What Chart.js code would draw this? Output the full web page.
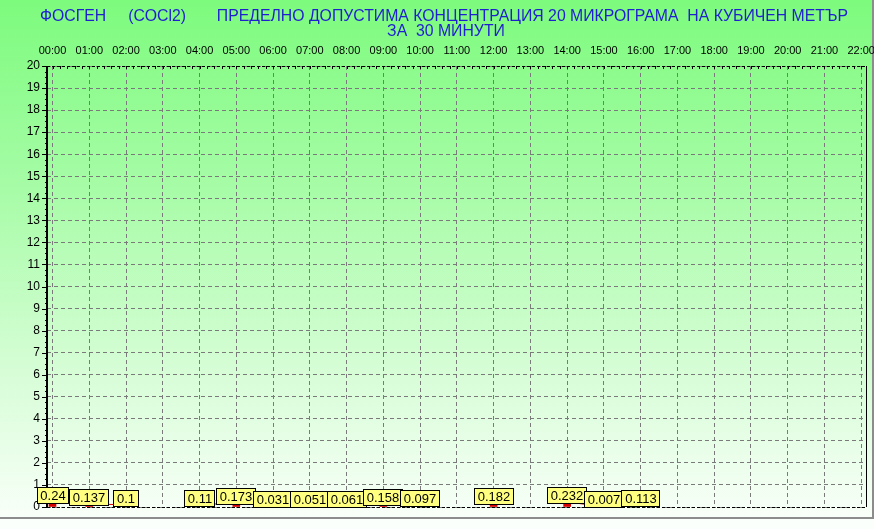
<!DOCTYPE html>
<html>
<head>
<meta charset="utf-8">
<script src="https://cdn.jsdelivr.net/npm/chart.js@4.4.1/dist/chart.umd.min.js"></script>
<style>
    html, body { margin: 0; padding: 0; background: #ffffff; }
    #wrap { width: 874px; height: 529px; position: relative; }
</style>
</head>
<body>
<div id="wrap"><canvas id="chart" width="874" height="529"></canvas></div>
<script>
"use strict";

const titleLine1 = "ФОСГЕН     (COCl2)       ПРЕДЕЛНО ДОПУСТИМА КОНЦЕНТРАЦИЯ 20 МИКРОГРАМА  НА КУБИЧЕН МЕТЪР";
const titleLine2 = "ЗА  30 МИНУТИ";

// hour tick labels, one per hour from 00:00 to 22:00
const hourLabels = ["00:00", "01:00", "02:00", "03:00", "04:00", "05:00", "06:00", "07:00",
    "08:00", "09:00", "10:00", "11:00", "12:00", "13:00", "14:00", "15:00",
    "16:00", "17:00", "18:00", "19:00", "20:00", "21:00", "22:00"];

// measured values per hour (null = no measurement)
const hourValues = [0.24, 0.137, 0.1, null, 0.11, 0.173, 0.031, 0.051, 0.061, 0.158, 0.097, null,
    0.182, null, 0.232, 0.007, 0.113, null, null, null, null, null, null];

const yMin = 0;
const yMax = 20;

const points = hourValues.map((v, i) => ({x: i, y: v}));

const backgroundPlugin = {
    id: "background",
    beforeDraw(chart) {
        const ctx = chart.ctx;
        const w = chart.width, h = chart.height;
        const g = ctx.createLinearGradient(0, 0, 0, h);
        g.addColorStop(0, "#7dfb7d");
        g.addColorStop(0.35, "#a6fca6");
        g.addColorStop(0.7, "#d6fdd6");
        g.addColorStop(1, "#fbfffb");
        ctx.save();
        ctx.fillStyle = g;
        ctx.fillRect(0, 0, w, h);

        // outer frame (gray) at bottom / right
        ctx.strokeStyle = "#8c8c8c";
        ctx.lineWidth = 2;
        ctx.beginPath();
        ctx.moveTo(0, 518);
        ctx.lineTo(873, 518);
        ctx.lineTo(873, 0);
        ctx.stroke();
        ctx.fillStyle = "#fbfffb";
        ctx.fillRect(0, 519, 872, 10);

        // title
        ctx.fillStyle = "#1f1fd0";
        ctx.font = "15.8px 'Liberation Sans', Arial, sans-serif";
        ctx.textAlign = "left";
        ctx.textBaseline = "middle";
        ctx.fillText(titleLine1, 40, 17);
        ctx.textAlign = "center";
        ctx.fillText(titleLine2, 446, 32);
        ctx.restore();
    },
    afterDraw(chart) {
        const ctx = chart.ctx;
        const a = chart.chartArea;
        ctx.save();
        // top and bottom dashed black borders
        ctx.strokeStyle = "#000000";
        ctx.lineWidth = 1;
        ctx.setLineDash([3, 2]);
        ctx.beginPath();
        ctx.moveTo(a.left, a.top + 0.5);
        ctx.lineTo(a.right, a.top + 0.5);
        ctx.moveTo(a.left, a.bottom + 0.5);
        ctx.lineTo(a.right, a.bottom + 0.5);
        ctx.stroke();
        ctx.setLineDash([]);
        // right solid border
        ctx.beginPath();
        ctx.moveTo(a.right + 0.5, a.top);
        ctx.lineTo(a.right + 0.5, a.bottom);
        ctx.stroke();
        // left thick axis
        ctx.lineWidth = 2;
        ctx.beginPath();
        ctx.moveTo(a.left, a.top);
        ctx.lineTo(a.left, a.bottom + 1);
        ctx.stroke();
        // minor ticks along left axis
        const ys = chart.scales.y;
        ctx.lineWidth = 1;
        ctx.beginPath();
        for (let v = yMin; v <= yMax; v += 0.25) {
            const py = Math.round(ys.getPixelForValue(v)) + 0.5;
            const len = Number.isInteger(v) ? 5 : 2;
            ctx.moveTo(a.left - len, py);
            ctx.lineTo(a.left, py);
        }
        ctx.stroke();
        // minor ticks along top border
        const xs = chart.scales.x;
        ctx.beginPath();
        for (let v = 0; v <= 22; v += 0.2) {
            const px = Math.round(xs.getPixelForValue(v)) + 0.5;
            ctx.moveTo(px, a.top);
            ctx.lineTo(px, a.top + 3);
        }
        ctx.stroke();
        ctx.restore();
    }
};

// yellow value boxes, drawn last so they sit on top of the axis
const valueLabelPlugin = {
    id: "valueLabels",
    afterDraw(chart) {
        const ctx = chart.ctx;
        const meta = chart.getDatasetMeta(0);
        ctx.save();
        ctx.font = "13px 'Liberation Sans', Arial, sans-serif";
        ctx.textAlign = "center";
        ctx.textBaseline = "middle";
        meta.data.forEach((bar, i) => {
            const v = hourValues[i];
            if (v === null) return;
            const text = String(v);
            const w = Math.max(26, Math.round(ctx.measureText(text).width) + 7);
            const hgt = 17;
            const cx = Math.round(bar.x);
            const bottom = Math.min(Math.round(bar.y) + 2, chart.chartArea.bottom + 1);
            const x0 = cx - Math.round(w / 2);
            const y0 = bottom - hgt;
            ctx.fillStyle = "#ffff80";
            ctx.fillRect(x0, y0, w, hgt);
            ctx.strokeStyle = "#000000";
            ctx.lineWidth = 1;
            ctx.strokeRect(x0 + 0.5, y0 + 0.5, w - 1, hgt - 1);
            ctx.fillStyle = "#000000";
            ctx.fillText(text, cx, y0 + hgt / 2 + 1);
        });
        ctx.restore();
    }
};

new Chart(document.getElementById("chart"), {
    data: {
        datasets: [
            {
                type: "bar",
                data: points,
                backgroundColor: "#d40000",
                borderWidth: 0,
                barThickness: 7,
                order: 2
            },
            {
                type: "line",
                data: points,
                borderColor: "#e00000",
                borderWidth: 1,
                pointRadius: 0,
                spanGaps: false,
                order: 1
            }
        ]
    },
    options: {
        responsive: false,
        animation: false,
        events: [],
        layout: {padding: {top: 0, right: 8, bottom: 22, left: 0}},
        plugins: {
            legend: {display: false},
            tooltip: {enabled: false}
        },
        scales: {
            x: {
                type: "linear",
                position: "top",
                offset: false,
                min: -0.15,
                max: 22.13,
                afterFit(scale) {
                    scale.height = 66;
                    scale.paddingLeft = 0;
                    scale.paddingRight = 0;
                },
                afterBuildTicks(scale) {
                    scale.ticks = hourLabels.map((_, i) => ({value: i}));
                },
                ticks: {
                    padding: 8,
                    maxRotation: 0,
                    autoSkip: false,
                    color: "#000000",
                    font: {family: "'Liberation Sans', Arial, sans-serif", size: 11},
                    callback: (v) => hourLabels[v]
                },
                grid: {
                    offset: false,
                    color: "#7a7a7a",
                    lineWidth: 1,
                    drawTicks: false
                },
                border: {display: false, dash: [4, 3]}
            },
            y: {
                type: "linear",
                min: yMin,
                max: yMax,
                afterFit(scale) {
                    scale.width = 47;
                    scale.paddingTop = 0;
                    scale.paddingBottom = 0;
                },
                ticks: {
                    stepSize: 1,
                    padding: 7,
                    color: "#000000",
                    font: {family: "'Liberation Sans', Arial, sans-serif", size: 12}
                },
                grid: {
                    color: "#7a7a7a",
                    lineWidth: 1,
                    drawTicks: false
                },
                border: {display: false, dash: [4, 3]}
            }
        }
    },
    plugins: [backgroundPlugin, valueLabelPlugin]
});
</script>
</body>
</html>
